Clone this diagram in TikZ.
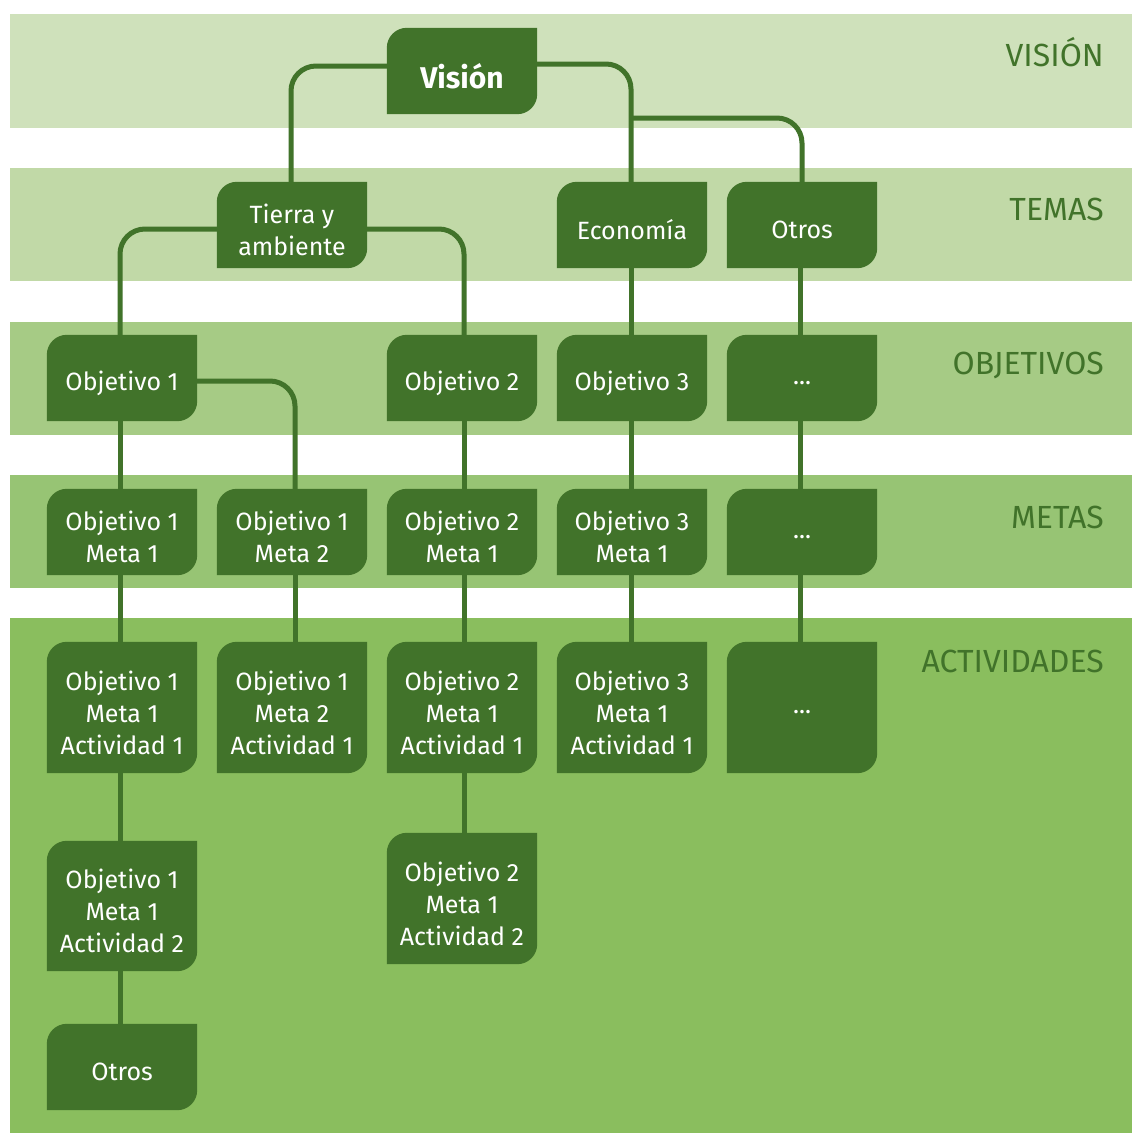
\documentclass[tikz,border=0pt]{standalone}
\usepackage{fontspec}
\setmainfont{Fira Sans}
\usetikzlibrary{calc}
\definecolor{dg}{HTML}{41732A}
\definecolor{bandA}{HTML}{CFE1BB}
\definecolor{bandB}{HTML}{C1D9A7}
\definecolor{bandC}{HTML}{A6CB85}
\definecolor{bandD}{HTML}{97C474}
\definecolor{bandE}{HTML}{8ABE5E}
\pgfdeclarelayer{bands}
\pgfdeclarelayer{boxes}
\pgfsetlayers{bands,boxes,main}
\tikzset{
  leaf/.style={inner sep=0pt, minimum width=150pt, minimum height=86pt, text=white, align=center, font=\fontsize{25}{32}\selectfont},
  tall/.style={minimum height=131pt},
  conn/.style={draw=dg, line width=5pt, rounded corners=25pt},
  bandlabel/.style={anchor=base east, inner sep=0pt, text=dg, font=\fontsize{32}{38}\selectfont}
}
% box drawn 5pt above the node's text centre
\newcommand\leafshape[1]{%
  \fill[dg] ([yshift=5pt]#1.south west) -- ([yshift=-15pt]#1.north west)
    arc[start angle=180,end angle=90,radius=20pt] -- ([yshift=5pt]#1.north east)
    -- ([yshift=25pt]#1.south east)
    arc[start angle=0,end angle=-90,radius=20pt] -- cycle;}
\begin{document}
\begin{tikzpicture}[x=1pt,y=1pt]
\useasboundingbox (0,0) rectangle (1132,-1133);
\begin{pgfonlayer}{bands}
\fill[white] (0,0) rectangle (1132,-1133);
\fill[bandA] (10,-14) rectangle (1132,-128);
\fill[bandB] (10,-168) rectangle (1132,-281);
\fill[bandC] (10,-322) rectangle (1132,-435);
\fill[bandD] (10,-475) rectangle (1132,-588);
\fill[bandE] (10,-618) rectangle (1132,-1133);
\end{pgfonlayer}

% band labels
\node[bandlabel] (lv) at (1104,-66) {VISIÓN};
\node[bandlabel] (lt) at (1104,-220) {TEMAS};
\node[bandlabel] (lo) at (1104,-374) {OBJETIVOS};
\node[bandlabel] (lm) at (1104,-528) {METAS};
\node[bandlabel] (la) at (1104,-672) {ACTIVIDADES};

% nodes (text centre 5pt below box centre)
\node[leaf, font=\fontsize{30}{36}\selectfont\bfseries] (vis) at (462,-76) {Visión};
\node[leaf] (tierra) at (292,-230) {Tierra y\\ambiente};
\node[leaf] (econ) at (632,-230) {Economía};
\node[leaf] (otros) at (802,-230) {Otros};

\node[leaf] (o1) at (122,-383) {Objetivo 1};
\node[leaf] (o2) at (462,-383) {Objetivo 2};
\node[leaf] (o3) at (632,-383) {Objetivo 3};
\node[leaf] (o5) at (802,-383) {...};

\node[leaf] (m1) at (122,-537) {Objetivo 1\\Meta 1};
\node[leaf] (m2) at (292,-537) {Objetivo 1\\Meta 2};
\node[leaf] (m3) at (462,-537) {Objetivo 2\\Meta 1};
\node[leaf] (m4) at (632,-537) {Objetivo 3\\Meta 1};
\node[leaf] (m5) at (802,-537) {...};

\node[leaf, tall] (a1) at (122,-712.5) {Objetivo 1\\Meta 1\\Actividad 1};
\node[leaf, tall] (a2) at (292,-712.5) {Objetivo 1\\Meta 2\\Actividad 1};
\node[leaf, tall] (a3) at (462,-712.5) {Objetivo 2\\Meta 1\\Actividad 1};
\node[leaf, tall] (a4) at (632,-712.5) {Objetivo 3\\Meta 1\\Actividad 1};
\node[leaf, tall] (a5) at (802,-712.5) {...};

\node[leaf, minimum height=130pt] (a12) at (122,-911) {Objetivo 1\\Meta 1\\Actividad 2};
\node[leaf, minimum height=131pt] (a32) at (462,-903.5) {Objetivo 2\\Meta 1\\Actividad 2};
\node[leaf] (ot2) at (122,-1072) {Otros};

\coordinate (br) at (631,-118);

\begin{pgfonlayer}{boxes}
\foreach \n in {vis,tierra,econ,otros,o1,o2,o3,o5,m1,m2,m3,m4,m5,a1,a2,a3,a4,a5,a12,a32,ot2}{\leafshape{\n}}
\end{pgfonlayer}

\begin{pgfonlayer}{bands}
\draw[conn] ([yshift=10pt]vis.west) -| ([xshift=-1pt]tierra.center);
\draw[conn] ([yshift=12pt]vis.east) -| ([xshift=-1pt]econ.center);
\draw[conn] (br) -| (otros.center);
\draw[conn] ([yshift=1pt]tierra.west) -| ([xshift=-2pt]o1.center);
\draw[conn] ([yshift=1pt]tierra.east) -| ([xshift=2pt]o2.center);
\draw[conn] ([yshift=2pt]o1.east) -| ([xshift=3pt]m2.center);
\draw[conn] ([xshift=-2pt]o1.center) -- ([xshift=-2pt]m1.center);
\draw[conn] ([xshift=-2pt]m1.center) -- ([xshift=-2pt]a1.center);
\draw[conn] ([xshift=-2pt]a1.center) -- ([xshift=-2pt]a12.center);
\draw[conn] ([xshift=-2pt]a12.center) -- ([xshift=-2pt]ot2.center);
\draw[conn] ([xshift=3pt]m2.center) -- ([xshift=3pt]a2.center);
\draw[conn] ([xshift=2pt]o2.center) -- ([xshift=2pt]m3.center);
\draw[conn] ([xshift=2pt]m3.center) -- ([xshift=2pt]a3.center);
\draw[conn] ([xshift=2pt]a3.center) -- ([xshift=2pt]a32.center);
\draw[conn] ([xshift=-1pt]econ.center) -- ([xshift=-1pt]o3.center);
\draw[conn] ([xshift=-1pt]o3.center) -- ([xshift=-1pt]m4.center);
\draw[conn] ([xshift=-1pt]m4.center) -- ([xshift=-1pt]a4.center);
\draw[conn] ([xshift=-2pt]otros.center) -- ([xshift=-2pt]o5.center);
\draw[conn] ([xshift=-2pt]o5.center) -- ([xshift=-2pt]m5.center);
\draw[conn] ([xshift=-2pt]m5.center) -- ([xshift=-2pt]a5.center);
\end{pgfonlayer}
\end{tikzpicture}
\end{document}
